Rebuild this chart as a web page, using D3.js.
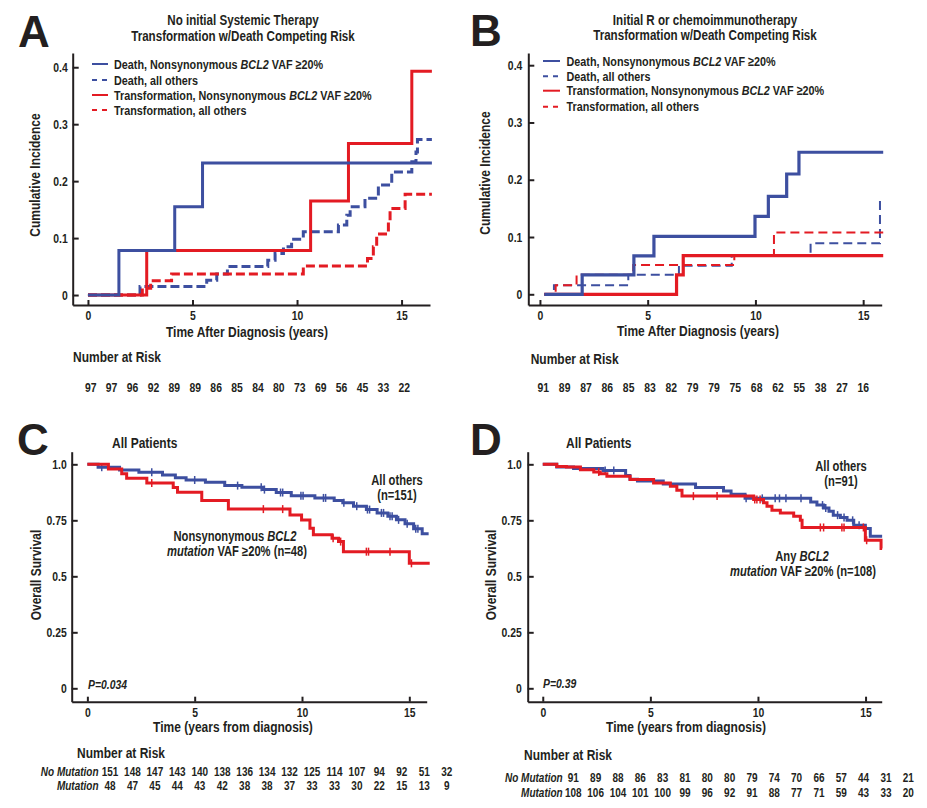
<!DOCTYPE html>
<html><head><meta charset="utf-8">
<script src="https://cdn.jsdelivr.net/npm/d3@7"></script>
<style>
body{margin:0;background:#fff}
svg text{font-family:"Liberation Sans",Arial,sans-serif;font-weight:bold;fill:#231f20}
svg text.letter{font-family:"Liberation Sans",Arial,sans-serif;font-size:44px}
.axis path,.axis line{stroke:#231f20;stroke-width:2}
</style></head><body>
<svg id="c" width="927" height="808"></svg>
<script>
// ---------- DATA ----------
const riskYears = d3.range(16);
// Panel A: No initial systemic therapy (cumulative incidence)
const aDeathMutT = [0, 1.48, 4.15, 5.48];
const aDeathMutV = [0, 0.078, 0.155, 0.232];
const aDeathOthT = [0, 2.49, 5.68, 6.16, 6.67, 8.6, 8.95, 9.35, 9.74, 10.3, 11.98, 12.38, 12.54, 13.25, 13.89, 14.53, 15.49, 15.69, 15.76];
const aDeathOthV = [0, 0.015, 0.026, 0.037, 0.050, 0.061, 0.073, 0.085, 0.098, 0.111, 0.123, 0.140, 0.155, 0.170, 0.193, 0.216, 0.234, 0.251, 0.273];
const aTransMutT = [0, 2.81, 10.65, 12.46, 15.49];
const aTransMutV = [0, 0.078, 0.165, 0.266, 0.393];
const aTransOthT = [0, 2.6, 3.0, 4.0, 10.3, 13.37, 13.65, 13.81, 14.37, 14.45, 15.17];
const aTransOthV = [0, 0.012, 0.025, 0.037, 0.051, 0.064, 0.085, 0.107, 0.129, 0.152, 0.177];
const aEnd = 16.45;
const aRisk = [97, 97, 96, 92, 89, 89, 86, 85, 84, 80, 73, 69, 56, 45, 33, 22];

// Panel B: Initial R or chemoimmunotherapy
const bDeathMutT = [0.2, 1.96, 4.36, 5.29, 9.98, 10.6, 11.45, 12.02];
const bDeathMutV = [0, 0.034, 0.067, 0.101, 0.136, 0.171, 0.210, 0.248];
const bDeathOthT = [0.2, 0.65, 4.1, 6.45, 8.9, 12.56, 15.78];
const bDeathOthV = [0, 0.016, 0.034, 0.050, 0.0675, 0.089, 0.163];
const bTransMutT = [0.2, 6.34, 6.65];
const bTransMutV = [0, 0.034, 0.0675];
const bTransOthT = [0.2, 0.73, 1.7, 4.33, 9.02, 10.86];
const bTransOthV = [0, 0.016, 0.034, 0.051, 0.0675, 0.108];
const bEnd = 15.93;
const bRisk = [91, 89, 87, 86, 85, 83, 82, 79, 79, 75, 68, 62, 55, 38, 27, 16];

// Panel C: All patients, overall survival (nonsynonymous BCL2)
const cOthT = [0, 0.5, 1.5, 2.4, 3.5, 4.1, 4.6, 5.5, 6.4, 7.2, 8.2, 8.8, 9.5, 10.6, 11.5, 11.9, 12.4, 13.0, 13.5, 14.0, 14.4, 14.8, 15.2, 15.6];
const cOthS = [1, 0.987, 0.975, 0.965, 0.952, 0.940, 0.930, 0.920, 0.905, 0.898, 0.887, 0.874, 0.860, 0.850, 0.838, 0.828, 0.813, 0.798, 0.783, 0.768, 0.752, 0.735, 0.712, 0.690];
const cOthCens = [0.67, 3.0, 5.0, 7.0, 8.1, 8.25, 9.0, 9.1, 9.95, 10.05, 11.0, 11.1, 11.95, 12.55, 13.05, 13.15, 13.7, 13.8, 14.1, 14.2, 14.5, 14.9, 15.3, 15.4];
const cMutT = [0, 0.98, 1.6, 1.83, 2.77, 4.0, 4.2, 5.33, 6.57, 9.44, 9.98, 10.37, 10.53, 11.4, 11.7, 11.93, 15.0];
const cMutS = [1, 0.979, 0.958, 0.9375, 0.917, 0.896, 0.875, 0.838, 0.80, 0.774, 0.751, 0.714, 0.685, 0.670, 0.655, 0.610, 0.558];
const cMutCens = [3.0, 8.2, 9.1, 11.45, 11.8, 13.0, 13.1, 14.1, 15.1];
const cOthEnd = 15.9, cMutEnd = 15.95;
const cRiskNoMut = [151, 148, 147, 143, 140, 138, 136, 134, 132, 125, 114, 107, 94, 92, 51, 32];
const cRiskMut = [48, 47, 45, 44, 43, 42, 38, 38, 37, 33, 33, 30, 22, 15, 13, 9];

// Panel D: All patients, overall survival (any BCL2)
const dOthT = [0, 0.65, 1.43, 2.8, 3.85, 4.05, 4.4, 5.6, 7.1, 8.4, 8.75, 9.4, 12.45, 12.74, 13.05, 13.3, 13.5, 13.83, 14.14, 14.45, 14.99, 15.22];
const dOthS = [1, 0.988, 0.981, 0.972, 0.950, 0.933, 0.926, 0.912, 0.897, 0.881, 0.866, 0.848, 0.832, 0.818, 0.805, 0.790, 0.773, 0.762, 0.750, 0.728, 0.713, 0.679];
const dOthCens = [2.9, 3.3, 9.45, 10.2, 10.8, 11.0, 11.3, 12.0, 13.0, 13.15, 13.7, 14.0, 14.4, 14.7];
const dMutT = [0, 0.65, 1.1, 1.75, 2.37, 2.67, 2.98, 4.06, 5.15, 5.93, 6.23, 6.47, 9.8, 10.26, 10.42, 10.65, 11.04, 11.66, 11.97, 12.05, 14.99, 15.72];
const dMutS = [1, 0.99, 0.988, 0.976, 0.966, 0.958, 0.947, 0.932, 0.917, 0.902, 0.884, 0.858, 0.843, 0.828, 0.813, 0.795, 0.783, 0.768, 0.750, 0.718, 0.661, 0.624];
const dMutCens = [2.6, 7.0, 8.1, 9.85, 9.95, 10.1, 12.9, 13.05, 13.9, 14.0, 14.9, 15.05];
const dEnd = 15.77;
const dRiskNoMut = [91, 89, 88, 86, 83, 81, 80, 80, 79, 74, 70, 66, 57, 44, 31, 21];
const dRiskMut = [108, 106, 104, 101, 100, 99, 96, 92, 91, 88, 77, 71, 59, 43, 33, 20];

const xTicks = [0, 5, 10, 15];
const ciTicks = [0, 0.1, 0.2, 0.3, 0.4];
const ciTickLabels = ["0", "0.1", "0.2", "0.3", "0.4"];
const osTicks = [0, 0.25, 0.5, 0.75, 1.0];
const osTickLabels = ["0", "0.25", "0.5", "0.75", "1.0"];
const legendNames = [
  ["Death, Nonsynonymous ", "BCL2", " VAF ≥20%"],
  ["Death, all others"],
  ["Transformation, Nonsynonymous ", "BCL2", " VAF ≥20%"],
  ["Transformation, all others"]
];

// ---------- DRAWING ----------
const BLUE = "#3d4fa0", RED = "#e31b23";
const SQUEEZE = 0.8;
const svg = d3.select("#c");

function pts(ts, vs, end) { const p = ts.map((t, i) => [t, vs[i]]); p.push([end, vs[vs.length - 1]]); return p; }
function valAt(ts, vs, t) { const i = d3.bisectRight(ts, t) - 1; return vs[Math.max(0, i)]; }

function axes(x, y, yTicks, yLabels, xpad) {
  svg.append("g").attr("class", "axis").attr("transform", `translate(0,${y.range()[0]})`)
    .call(d3.axisBottom(x).tickValues(xTicks).tickSizeInner(-5).tickSizeOuter(0).tickPadding(6))
    .call(g => g.selectAll("text").style("font-size", "13px").attr("fill", "#231f20"));
  svg.append("g").attr("class", "axis").attr("transform", `translate(${x.range()[0]},0)`)
    .call(d3.axisLeft(y).tickValues(yTicks).tickFormat((d, i) => yLabels[i]).tickSizeInner(-6).tickSizeOuter(0).tickPadding(xpad))
    .call(g => g.selectAll("text").style("font-size", "13px").attr("fill", "#231f20"));
  svg.selectAll(".axis").attr("font-family", null).attr("font-size", null);
}

function curve(x, y, p, color, w, dash) {
  const line = d3.line().x(d => x(d[0])).y(d => y(d[1])).curve(d3.curveStepAfter);
  svg.append("path").attr("d", line(p)).attr("fill", "none").attr("stroke", color)
    .attr("stroke-width", w).attr("stroke-dasharray", dash || null);
}
function censors(x, y, ts, vs, cens, color) {
  svg.append("g").selectAll("line").data(cens).join("line")
    .attr("x1", d => x(d)).attr("x2", d => x(d))
    .attr("y1", d => y(valAt(ts, vs, d)) - 4).attr("y2", d => y(valAt(ts, vs, d)) + 4)
    .attr("stroke", color).attr("stroke-width", 1.5);
}
function text(x, y, str, size, anchor, italic, rot) {
  const t = svg.append("text").attr("x", x).attr("y", y).attr("dy", "0.35em")
    .attr("text-anchor", anchor || "start").style("font-size", size + "px").text(str);
  if (italic) t.style("font-style", "italic");
  if (rot) t.attr("transform", `rotate(-90,${x},${y})`);
  return t;
}
function richText(x, y, parts, size, anchor, italicIdx) {
  const t = svg.append("text").attr("x", x).attr("y", y).attr("dy", "0.35em")
    .attr("text-anchor", anchor || "start").style("font-size", size + "px");
  parts.forEach((p, i) => t.append("tspan").text(p).style("font-style", italicIdx.includes(i) ? "italic" : "normal"));
}
function letter(x, y, s) { svg.append("text").attr("class", "letter").attr("x", x).attr("y", y).text(s); }
function legend(x0, x1, tx, rows) {
  const styles = [[BLUE, null], [BLUE, "5,5"], [RED, null], [RED, "5,5"]];
  rows.forEach((ry, i) => {
    svg.append("line").attr("x1", x0).attr("x2", x1).attr("y1", ry).attr("y2", ry)
      .attr("stroke", styles[i][0]).attr("stroke-width", 2).attr("stroke-dasharray", styles[i][1]);
    richText(tx, ry, legendNames[i], 13.5, "start", [1]);
  });
}
function riskRow(sc, vals, y, size) {
  svg.append("g").selectAll("text").data(vals).join("text")
    .attr("x", (d, i) => sc(riskYears[i])).attr("y", y).attr("dy", "0.35em")
    .attr("text-anchor", "middle").style("font-size", size + "px").text(d => d);
}

// ----- Panel A -----
{
  const x = d3.scaleLinear().domain([-0.73, 16.36]).range([72.7, 430]);
  const y = d3.scaleLinear().domain([-0.0175, 0.425]).range([305, 53]);
  letter(18, 47, "A");
  text(243, 20, "No initial Systemic Therapy", 14.5, "middle");
  text(243, 35.5, "Transformation w/Death Competing Risk", 14.5, "middle");
  axes(x, y, ciTicks, ciTickLabels, 5);
  curve(x, y, pts(aDeathOthT, aDeathOthV, aEnd), BLUE, 3, "9,4");
  curve(x, y, pts(aTransOthT, aTransOthV, aEnd), RED, 3, "9,4");
  curve(x, y, pts(aTransMutT, aTransMutV, aEnd), RED, 3);
  curve(x, y, pts(aDeathMutT, aDeathMutV, aEnd), BLUE, 3);
  legend(92, 108, 114, [64, 80, 95, 110]);
  text(247, 332, "Time After Diagnosis (years)", 15, "middle");
  text(35, 175, "Cumulative Incidence", 15, "middle", false, true);
  text(73, 357, "Number at Risk", 15);
  riskRow(d3.scaleLinear().domain([0, 15]).range([90.7, 404.3]), aRisk, 387, 13);
}
// ----- Panel B -----
{
  const x = d3.scaleLinear().domain([-0.54, 15.86]).range([528.3, 881.7]);
  const y = d3.scaleLinear().domain([-0.0187, 0.4213]).range([305, 53]);
  letter(470, 46, "B");
  text(705, 19.5, "Initial R or chemoimmunotherapy", 14.5, "middle");
  text(705, 35, "Transformation w/Death Competing Risk", 14.5, "middle");
  axes(x, y, ciTicks, ciTickLabels, 6);
  curve(x, y, pts(bDeathOthT, bDeathOthV, bEnd), BLUE, 2, "9,5");
  curve(x, y, pts(bTransOthT, bTransOthV, bEnd), RED, 2, "9,5");
  curve(x, y, pts(bTransMutT, bTransMutV, bEnd), RED, 3.2);
  curve(x, y, pts(bDeathMutT, bDeathMutV, bEnd), BLUE, 3.2);
  legend(543, 560, 566.5, [61, 76.3, 90.7, 106.7]);
  text(698, 331, "Time After Diagnosis (years)", 15, "middle");
  text(485, 173, "Cumulative Incidence", 15, "middle", false, true);
  text(530.7, 359, "Number at Risk", 15);
  riskRow(d3.scaleLinear().domain([0, 15]).range([543.3, 863.3]), bRisk, 387, 13);
}
// ----- Panel C -----
{
  const x = d3.scaleLinear().domain([-0.73, 15.81]).range([71.7, 426.7]);
  const y = d3.scaleLinear().domain([-0.0598, 1.0563]).range([701.7, 451.7]);
  letter(17, 455, "C");
  text(112, 443, "All Patients", 15);
  axes(x, y, osTicks, osTickLabels, 5);
  curve(x, y, pts(cOthT, cOthS, cOthEnd), BLUE, 3);
  censors(x, y, cOthT, cOthS, cOthCens, BLUE);
  curve(x, y, pts(cMutT, cMutS, cMutEnd), RED, 3);
  censors(x, y, cMutT, cMutS, cMutCens, RED);
  text(397, 480, "All others", 14, "middle");
  text(397, 495, "(n=151)", 14, "middle");
  richText(235, 536, ["Nonsynonymous ", "BCL2"], 14, "middle", [1]);
  richText(237, 551, ["mutation", " VAF ≥20% (n=48)"], 14, "middle", [0]);
  text(88, 684, "P=0.034", 13, "start", true);
  text(233, 727, "Time (years from diagnosis)", 15, "middle");
  text(36, 575, "Overall Survival", 15, "middle", false, true);
  text(77, 753, "Number at Risk", 15);
  text(98.5, 772, "No Mutation", 12.5, "end", true);
  text(98.5, 786, "Mutation", 12.5, "end", true);
  const rs = d3.scaleLinear().domain([0, 15]).range([110, 446.7]);
  riskRow(rs, cRiskNoMut, 772, 12.5);
  riskRow(rs, cRiskMut, 786, 12.5);
}
// ----- Panel D -----
{
  const x = d3.scaleLinear().domain([-0.70, 15.75]).range([527.7, 881.7]);
  const y = d3.scaleLinear().domain([-0.0598, 1.0563]).range([701.7, 451.7]);
  letter(470, 455, "D");
  text(566, 443, "All Patients", 15);
  axes(x, y, osTicks, osTickLabels, 6);
  curve(x, y, pts(dOthT, dOthS, dEnd), BLUE, 3);
  censors(x, y, dOthT, dOthS, dOthCens, BLUE);
  curve(x, y, pts(dMutT, dMutS, dEnd), RED, 3);
  censors(x, y, dMutT, dMutS, dMutCens, RED);
  text(841, 466, "All others", 14, "middle");
  text(841, 481, "(n=91)", 14, "middle");
  richText(802, 556, ["Any ", "BCL2"], 14, "middle", [1]);
  richText(803, 571, ["mutation", " VAF ≥20% (n=108)"], 14, "middle", [0]);
  text(543, 683, "P=0.39", 13, "start", true);
  text(686, 727, "Time (years from diagnosis)", 15, "middle");
  text(491, 575, "Overall Survival", 15, "middle", false, true);
  text(524, 755, "Number at Risk", 15);
  text(562.7, 777.7, "No Mutation", 12.5, "end", true);
  text(562.7, 792.3, "Mutation", 12.5, "end", true);
  const rs = d3.scaleLinear().domain([0, 15]).range([573.3, 908.3]);
  riskRow(rs, dRiskNoMut, 777.7, 12.5);
  riskRow(rs, dRiskMut, 792.3, 12.5);
}
// condense all text horizontally around its anchor (narrow bold face look)
svg.selectAll("text:not(.letter)").each(function () {
  const x = +(this.getAttribute("x") || 0), y = +(this.getAttribute("y") || 0);
  const prev = this.getAttribute("transform") || "";
  this.setAttribute("transform", `${prev} translate(${x},${y}) scale(${SQUEEZE},1) translate(${-x},${-y})`.trim());
});
</script></body></html>
